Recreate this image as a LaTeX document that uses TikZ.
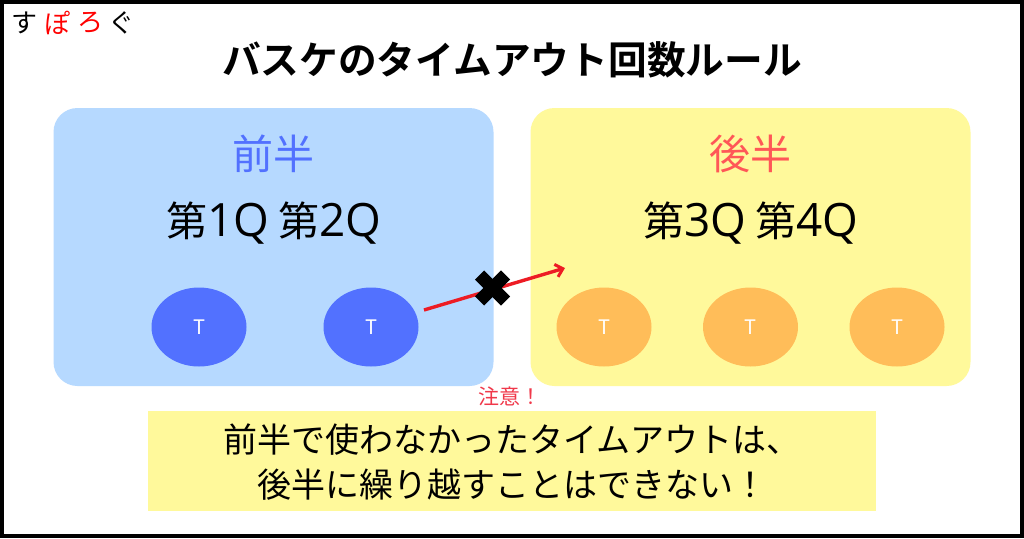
\documentclass[tikz,border=0pt]{standalone}
\usepackage{fontspec}
\setmainfont{Noto Sans CJK JP}
\newfontfamily\cjkbold{Noto Sans CJK JP Bold}
\newfontfamily\latinq[Scale=1.12]{Open Sans}
\definecolor{panelblue}{HTML}{B6D9FF}
\definecolor{panelyellow}{HTML}{FFF99B}
\definecolor{tblue}{HTML}{5271FF}
\definecolor{torange}{HTML}{FFBD59}
\definecolor{headred}{HTML}{FF5757}
\definecolor{notered}{HTML}{F0384A}
\definecolor{arrowred}{HTML}{ED1C24}
\tikzset{
  x=1pt,y=-1pt,
  panel/.style={fill=#1,rounded corners=24pt,inner sep=0pt,minimum width=440pt,minimum height=278pt},
  token/.style={ellipse,fill=#1,text=white,inner sep=0pt,minimum width=95pt,minimum height=79pt,font=\fontsize{20}{24}\selectfont},
  head/.style={text=#1,font=\fontsize{41}{48}\selectfont,inner sep=0pt},
  quarter/.style={text=black,font=\fontsize{41}{48}\selectfont,inner sep=0pt},
  logo/.style={inner sep=0pt,font=\fontsize{26}{30}\selectfont,text=#1},
}
\newcommand{\qlabel}[2]{第{\latinq #1Q} 第{\latinq #2Q}}
\usetikzlibrary{shapes.geometric,arrows.meta}
\begin{document}
\begin{tikzpicture}
\useasboundingbox (0,0) rectangle (1024,538);
\draw[line width=4pt,draw=black,fill=white] (2,2) rectangle (1022,536);
\node[logo=black] (l1) at (24,23) {す};
\node[logo=red] (l2) at (57,23) {ぽ};
\node[logo=red] (l3) at (90,23) {ろ};
\node[logo=black] (l4) at (121,23) {ぐ};
\node[inner sep=0pt,font=\cjkbold\fontsize{38.7}{46}\selectfont] (title) at (512,60) {バスケのタイムアウト回数ルール};
\node[panel=panelblue] (left) at (273.5,247) {};
\node[panel=panelyellow] (right) at (750.5,247) {};
\node[head=tblue] (h1) at (273,154) {前半};
\node[head=headred] (h2) at (750,154) {後半};
\node[quarter] (q1) at (274,223) {\qlabel{1}{2}};
\node[quarter] (q2) at (751,223) {\qlabel{3}{4}};
\node[token=tblue] (t1) at (199,327) {T};
\node[token=tblue] (t2) at (371,327) {T};
\node[token=torange] (t3) at (604,327) {T};
\node[token=torange] (t4) at (750.5,327) {T};
\node[token=torange] (t5) at (897,327) {T};
\coordinate (astart) at (424,310);
\coordinate (aend) at (565,268);
\draw[arrowred,line width=3.4pt,-{Straight Barb[length=7pt,width=13pt,line width=3pt]}] (astart) -- (aend);
\coordinate (xc) at (492.5,288);
\draw[black,line width=13pt] ([shift={(-13,-13)}]xc) -- ([shift={(13,13)}]xc);
\draw[black,line width=13pt] ([shift={(-13,13)}]xc) -- ([shift={(13,-13)}]xc);
\node[inner sep=0pt,text=notered,font=\fontsize{21}{25}\selectfont] (note) at (509.5,396) {注意！};
\node[fill=panelyellow,inner sep=0pt,minimum width=728pt,minimum height=100pt] (msg) at (512,461) {};
\node[inner sep=0pt,align=center,font=\fontsize{34}{45}\selectfont] (msgtext) at (512,462) {前半で使わなかったタイムアウトは、\\後半に繰り越すことはできない！};
\end{tikzpicture}
\end{document}
